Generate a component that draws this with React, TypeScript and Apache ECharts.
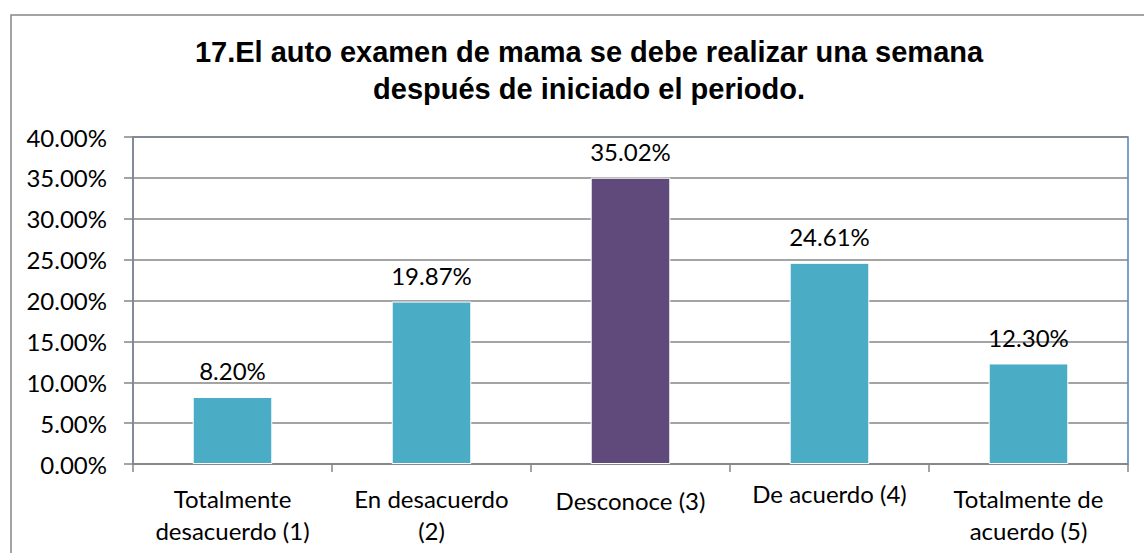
import React, { useEffect, useRef } from "react";
import * as echarts from "echarts";

const titleText = "17.El auto examen de mama se debe realizar una semana\ndespués de iniciado el periodo.";
const categories = [
  "Totalmente\ndesacuerdo (1)",
  "En desacuerdo\n(2)",
  "Desconoce (3)",
  "De acuerdo (4)",
  "Totalmente de\nacuerdo (5)",
];
const values = [8.2, 19.87, 35.02, 24.61, 12.3];
const barColors = ["#4BACC6", "#4BACC6", "#604A7B", "#4BACC6", "#4BACC6"];
const yMin = 0;
const yMax = 40;
const yInterval = 5;

export default function App() {
  const ref = useRef<HTMLDivElement>(null);
  useEffect(() => {
    document.body.style.margin = "0";
    if (!ref.current) return;
    const chart = echarts.init(ref.current, null, { renderer: "svg" });
    const lineHeights = [32, 32, 36, 22, 32];
    chart.setOption({
      animation: false,
      backgroundColor: "#ffffff",
      title: {
        text: titleText,
        left: 584,
        top: 28,
        textAlign: "center",
        textStyle: {
          fontFamily: "Liberation Sans",
          fontWeight: "bold",
          fontSize: 29,
          lineHeight: 37,
          color: "#000",
        },
      },
      graphic: [
        {
          type: "rect",
          shape: { x: 11, y: 15, width: 1200, height: 600 },
          style: { fill: "none", stroke: "#868686", lineWidth: 1.5 },
          z: 0,
        },
      ],
      grid: {
        left: 133,
        right: 16,
        top: 137,
        bottom: 89,
        show: true,
        borderColor: "#4F81BD",
        borderWidth: 1.5,
      },
      xAxis: {
        type: "category",
        data: categories.map((c, i) => ({ value: c, textStyle: { lineHeight: lineHeights[i] } })),
        axisLine: { lineStyle: { color: "#868686", width: 1.5 } },
        axisTick: { show: true, length: 8, lineStyle: { color: "#868686", width: 1.5 } },
        axisLabel: {
          interval: 0,
          margin: 18,
          fontFamily: "Lato",
          fontSize: 24,
          lineHeight: 32,
          color: "#000",
        },
      },
      yAxis: {
        type: "value",
        min: yMin,
        max: yMax,
        interval: yInterval,
        axisLine: { show: true, lineStyle: { color: "#868686", width: 1.5 } },
        axisTick: { show: true, length: 9, lineStyle: { color: "#868686", width: 1.5 } },
        splitLine: { lineStyle: { color: "#868686", width: 1.5 } },
        axisLabel: {
          margin: 26,
          fontFamily: "Lato",
          fontSize: 24,
          color: "#000",
          formatter: (v: number) => v.toFixed(2) + "%",
        },
      },
      series: [
        {
          type: "bar",
          barWidth: "40%",
          data: values.map((v, i) => ({
            value: v,
            itemStyle: { color: barColors[i], borderColor: "#ffffff", borderWidth: 1 },
          })),
          label: {
            show: true,
            position: "top",
            distance: 14,
            fontFamily: "Lato",
            fontSize: 24,
            color: "#000",
            formatter: (p: any) => Number(p.value).toFixed(2) + "%",
          },
        },
      ],
    });
    return () => chart.dispose();
  }, []);
  return <div ref={ref} style={{ width: 1144, height: 553 }} />;
}
